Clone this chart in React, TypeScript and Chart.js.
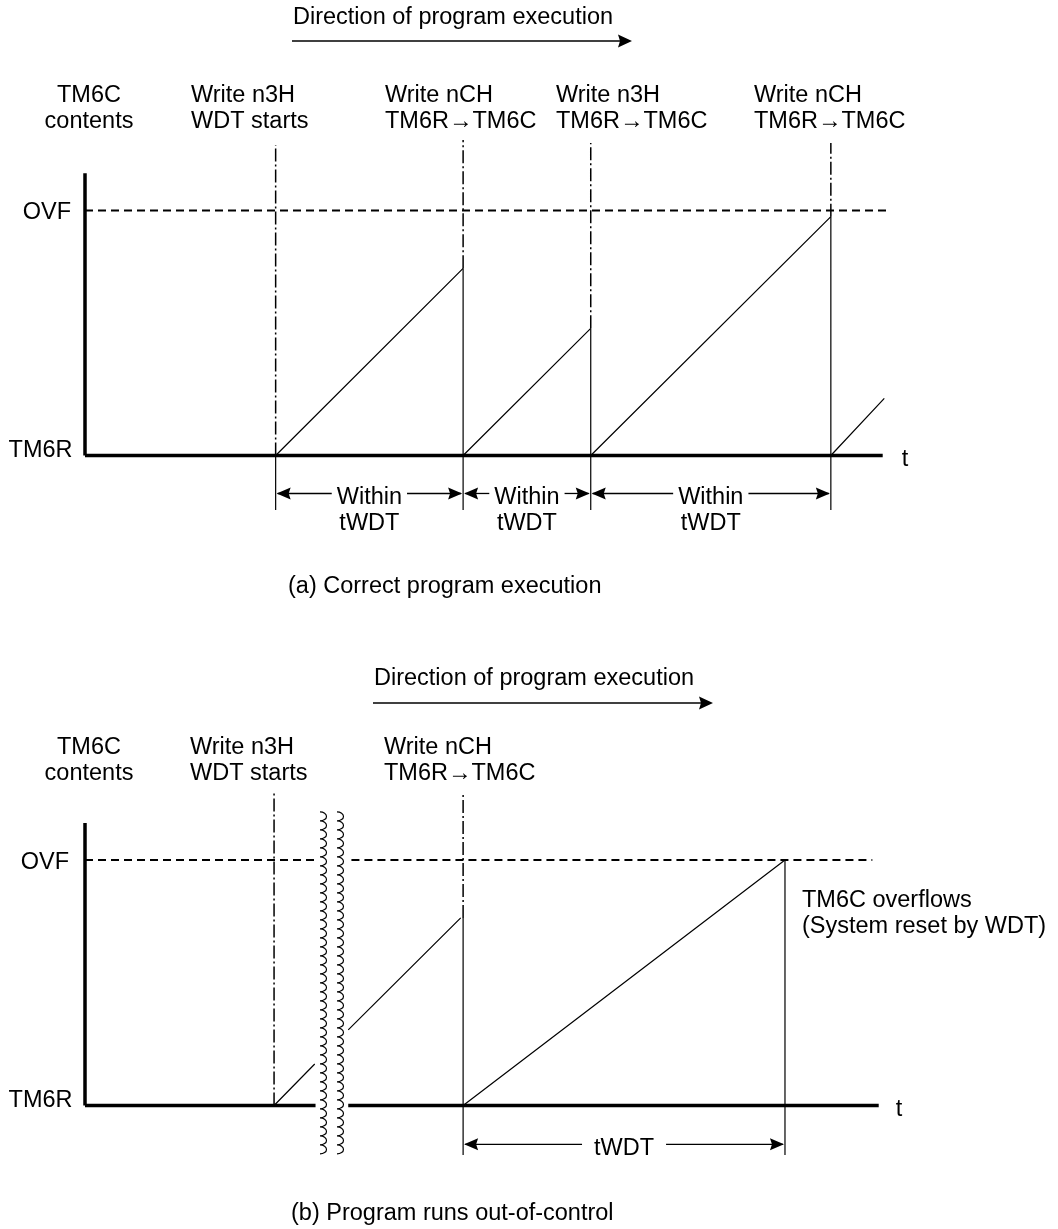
import { useEffect, useRef } from 'react';
import { Chart, registerables } from 'chart.js';

Chart.register(...registerables);

const W = 1058;
const FONT = '23.5px "Liberation Sans", Arial, Helvetica, sans-serif';

// ---------------- panel (a): correct program execution ----------------
// time in arbitrary units (TM6C axis at t = 0); contents: TM6R = 0, OVF = 100
const aWriteTimes = [23.9, 47.4, 63.4, 93.5];
const aRampPeaks = [76.4, 51.9, 97.5, 23.3];
const aLastRampEnd = 100.2;
const aAxisEnd = 100;
const aAxisTop = 115.2;
const aOvfEnd = 100.5;
const aDashDotTops = [126.7, 128.8, 127.6, 127.6];
const aTickBottom = -22.2;
const aSpanLevel = -15.5;
const aSpanLabels = [
  ['Within', 'tWDT'],
  ['Within', 'tWDT'],
  ['Within', 'tWDT'],
];
const aEventLabels = [
  ['Write n3H', 'WDT starts'],
  ['Write nCH', 'TM6R\u2192TM6C'],
  ['Write n3H', 'TM6R\u2192TM6C'],
  ['Write nCH', 'TM6R\u2192TM6C'],
];
const aCaption = '(a) Correct program execution';

// ---------------- panel (b): program runs out-of-control ----------------
const bWriteTimes = [23.7, 47.4];
const bDashDotTops = [127.3, 127.7];
const bDashDotBottoms = [0, 76.4];
const bRamp1T = [23.7, 28.8];
const bRamp1V = [0, 16.9];
const bRamp2T = [33.0, 47.1];
const bRamp2V = [30.8, 76.4];
const bRamp3T = [47.4, 87.75];
const bRamp3V = [0, 100];
const bOverflowTime = 87.75;
const bAxisEnd = 99.5;
const bAxisTop = 115.1;
const bOvfEnd = 98.7;
const bBaseBreak = [28.9, 33.0];
const bOvfBreak = [29.0, 33.4];
const bSquiggleT = [29.46, 31.59];
const bSquiggleRange = [119.6, -19.6];
const bTickBottom = -20.2;
const bSpanLevel = -15.8;
const bSpanLabel = 'tWDT';
const bEventLabels = [
  ['Write n3H', 'WDT starts'],
  ['Write nCH', 'TM6R\u2192TM6C'],
];
const bOverflowNote = ['TM6C overflows', '(System reset by WDT)'];
const bCaption = '(b) Program runs out-of-control';

const directionText = 'Direction of program execution';
const axisTitle = ['TM6C', 'contents'];

// ---------------- helpers ----------------
type Seg = [number, number, number, number];

function segs(list: Seg[]) {
  const pts: { x: number; y: number | null }[] = [];
  list.forEach(([x1, y1, x2, y2], i) => {
    if (i) pts.push({ x: x1, y: null });
    pts.push({ x: x1, y: y1 }, { x: x2, y: y2 });
  });
  return pts;
}

function lineDs(data: any[], width: number, dash: number[] = []) {
  return {
    data,
    borderColor: '#000',
    borderWidth: width,
    borderDash: dash,
    pointRadius: 0,
    pointHoverRadius: 0,
    tension: 0,
    fill: false,
    spanGaps: false,
    clip: false as any,
  };
}

function text(ctx: CanvasRenderingContext2D, s: string, x: number, y: number, align: CanvasTextAlign = 'left') {
  ctx.font = FONT;
  ctx.fillStyle = '#000';
  ctx.textAlign = align;
  ctx.textBaseline = 'alphabetic';
  ctx.fillText(s, x, y);
}

function head(ctx: CanvasRenderingContext2D, tipX: number, y: number, dir: number, len: number, half: number) {
  ctx.beginPath();
  ctx.moveTo(tipX, y);
  ctx.lineTo(tipX - dir * len, y - half);
  ctx.lineTo(tipX - dir * (len - 2), y);
  ctx.lineTo(tipX - dir * len, y + half);
  ctx.closePath();
  ctx.fillStyle = '#000';
  ctx.fill();
}

function hline(ctx: CanvasRenderingContext2D, x1: number, x2: number, y: number, w: number) {
  ctx.beginPath();
  ctx.moveTo(x1, y);
  ctx.lineTo(x2, y);
  ctx.lineWidth = w;
  ctx.strokeStyle = '#000';
  ctx.stroke();
}

function span(ctx: CanvasRenderingContext2D, x1: number, x2: number, y: number, labels: string[], gap: number, lineGap: number) {
  ctx.font = FONT;
  const cx = (x1 + x2) / 2;
  const tw = ctx.measureText(labels[0]).width;
  hline(ctx, x1 + 2, cx - tw / 2 - gap, y, 1.3);
  hline(ctx, cx + tw / 2 + gap, x2 - 2, y, 1.3);
  head(ctx, x1 + 1, y, -1, 14, 6);
  head(ctx, x2 - 1, y, 1, 14, 6);
  text(ctx, labels[0], cx, y + 10.5, 'center');
  if (labels[1]) text(ctx, labels[1], cx, y + 10.5 + lineGap, 'center');
}

function direction(ctx: CanvasRenderingContext2D, x: number, tBase: number, lineY: number, x2: number) {
  text(ctx, directionText, x + 1, tBase);
  hline(ctx, x, x2 - 12, lineY, 1.7);
  head(ctx, x2, lineY, 1, 14, 6.5);
}

function squiggle(ctx: CanvasRenderingContext2D, cx: number, y1: number, y2: number) {
  const P = 9;
  ctx.beginPath();
  for (let y = y1; y + P <= y2 + 0.5; y += P) {
    ctx.moveTo(cx, y);
    ctx.ellipse(cx, y + P / 2, 6.5, P / 2, 0, -Math.PI / 2, Math.PI / 2);
  }
  ctx.lineWidth = 1.2;
  ctx.strokeStyle = '#000';
  ctx.stroke();
}

// ---------------- chart builder ----------------
const X_ZERO_PX = 85;
const X_PX_PER_UNIT = 7.977;
const X_MIN = -10;
const X_MAX = 120;
const Y_MIN = -30;
const Y_MAX = 135;

function padding(h: number, yZeroPx: number, yPxPerUnit: number) {
  return {
    left: X_ZERO_PX + X_MIN * X_PX_PER_UNIT,
    right: W - (X_ZERO_PX + X_MAX * X_PX_PER_UNIT),
    top: yZeroPx - Y_MAX * yPxPerUnit,
    bottom: h - (yZeroPx - Y_MIN * yPxPerUnit),
  };
}

function makeConfig(datasets: any[], pad: any, draw: (ctx: CanvasRenderingContext2D, xs: any, ys: any) => void): any {
  return {
    type: 'line',
    data: { datasets },
    options: {
      animation: false,
      responsive: false,
      devicePixelRatio: 1,
      layout: { padding: pad },
      events: [],
      scales: {
        x: { type: 'linear', min: X_MIN, max: X_MAX, display: false },
        y: { type: 'linear', min: Y_MIN, max: Y_MAX, display: false },
      },
      plugins: { legend: { display: false }, tooltip: { enabled: false } },
    },
    plugins: [
      {
        id: 'annotations',
        afterDatasetsDraw(chart: any) {
          const ctx = chart.ctx as CanvasRenderingContext2D;
          ctx.save();
          draw(ctx, chart.scales.x, chart.scales.y);
          ctx.restore();
        },
      },
    ],
  };
}

function configA() {
  const datasets = [
    lineDs(segs([[0, 0, 0, aAxisTop], [0, 0, aAxisEnd, 0]]), 3.5),
    lineDs(segs([[0, 100, aOvfEnd, 100]]), 2, [8, 5]),
    lineDs(
      segs(aWriteTimes.map((t, i) => [t, i === 0 ? 0 : aRampPeaks[i - 1], t, aDashDotTops[i]] as Seg)),
      1.5,
      [13, 3, 2, 3],
    ),
    lineDs(
      segs(aWriteTimes.map((t, i) => [t, 0, i < aWriteTimes.length - 1 ? aWriteTimes[i + 1] : aLastRampEnd, aRampPeaks[i]] as Seg)),
      1.2,
    ),
    lineDs(
      segs(aWriteTimes.map((t, i) => [t, i === 0 ? 0 : aRampPeaks[i - 1], t, aTickBottom] as Seg)),
      1.2,
    ),
  ];
  const pad = padding(615, 455.5, 2.45);
  return makeConfig(datasets, pad, (ctx, xs, ys) => {
    direction(ctx, 292, 24, 41, 632);
    const t0 = xs.getPixelForValue(0);
    text(ctx, axisTitle[0], 89, 102, 'center');
    text(ctx, axisTitle[1], 89, 128, 'center');
    const lefts = [191, 385, 556, 754];
    aEventLabels.forEach((l, i) => {
      text(ctx, l[0], lefts[i], 102);
      text(ctx, l[1], lefts[i], 128);
    });
    text(ctx, 'OVF', t0 - 14, ys.getPixelForValue(100) + 8.5, 'right');
    text(ctx, 'TM6R', t0 - 12.5, ys.getPixelForValue(0) + 1, 'right');
    text(ctx, 't', xs.getPixelForValue(aAxisEnd) + 19, ys.getPixelForValue(0) + 10.5);
    const sy = ys.getPixelForValue(aSpanLevel);
    for (let i = 0; i < aWriteTimes.length - 1; i++) {
      span(ctx, xs.getPixelForValue(aWriteTimes[i]), xs.getPixelForValue(aWriteTimes[i + 1]), sy, aSpanLabels[i], 5, 26);
    }
    text(ctx, aCaption, 288, 593);
  });
}

function configB() {
  const OFF = 615;
  const datasets = [
    lineDs(segs([[0, 0, 0, bAxisTop], [0, 0, bBaseBreak[0], 0], [bBaseBreak[1], 0, bAxisEnd, 0]]), 3.5),
    lineDs(segs([[0, 100, bOvfBreak[0], 100], [bOvfBreak[1], 100, bOvfEnd, 100]]), 2, [8, 5]),
    lineDs(
      segs(bWriteTimes.map((t, i) => [t, bDashDotBottoms[i], t, bDashDotTops[i]] as Seg)),
      1.5,
      [13, 3, 2, 3],
    ),
    lineDs(
      segs([
        [bRamp1T[0], bRamp1V[0], bRamp1T[1], bRamp1V[1]],
        [bRamp2T[0], bRamp2V[0], bRamp2T[1], bRamp2V[1]],
        [bRamp3T[0], bRamp3V[0], bRamp3T[1], bRamp3V[1]],
      ]),
      1.2,
    ),
    lineDs(
      segs([
        [bWriteTimes[1], bDashDotBottoms[1], bWriteTimes[1], bTickBottom],
        [bOverflowTime, 100, bOverflowTime, bTickBottom],
      ]),
      1.2,
    ),
  ];
  const pad = padding(614, 1105.5 - OFF, 2.455);
  return makeConfig(datasets, pad, (ctx, xs, ys) => {
    ctx.translate(0, -OFF);
    const Y = (v: number) => ys.getPixelForValue(v) + OFF;
    direction(ctx, 373, 685, 703, 713);
    const t0 = xs.getPixelForValue(0);
    text(ctx, axisTitle[0], 89, 754, 'center');
    text(ctx, axisTitle[1], 89, 780, 'center');
    const lefts = [190, 384];
    bEventLabels.forEach((l, i) => {
      text(ctx, l[0], lefts[i], 754);
      text(ctx, l[1], lefts[i], 780);
    });
    text(ctx, 'OVF', t0 - 16, Y(100) + 8.5, 'right');
    text(ctx, 'TM6R', t0 - 12.5, Y(0) + 1, 'right');
    text(ctx, 't', xs.getPixelForValue(bAxisEnd) + 17, Y(0) + 10);
    bSquiggleT.forEach((t) => squiggle(ctx, xs.getPixelForValue(t), Y(bSquiggleRange[0]), Y(bSquiggleRange[1])));
    const nx = xs.getPixelForValue(bOverflowTime) + 17;
    text(ctx, bOverflowNote[0], nx, 907);
    text(ctx, bOverflowNote[1], nx, 933);
    span(ctx, xs.getPixelForValue(bWriteTimes[1]), xs.getPixelForValue(bOverflowTime), Y(bSpanLevel), [bSpanLabel], 12, 0);
    text(ctx, bCaption, 291, 1220);
  });
}

function Panel({ top, height, build }: { top: number; height: number; build: () => any }) {
  const ref = useRef<HTMLCanvasElement>(null);
  useEffect(() => {
    const chart = new Chart(ref.current as HTMLCanvasElement, build());
    return () => chart.destroy();
  }, []);
  return (
    <canvas
      ref={ref}
      width={W}
      height={height}
      style={{ position: 'absolute', left: 0, top, width: W, height, display: 'block' }}
    />
  );
}

export default function App() {
  return (
    <div style={{ position: 'absolute', left: 0, top: 0, width: W, height: 1229, background: '#fff' }}>
      <Panel top={0} height={615} build={configA} />
      <Panel top={615} height={614} build={configB} />
    </div>
  );
}
